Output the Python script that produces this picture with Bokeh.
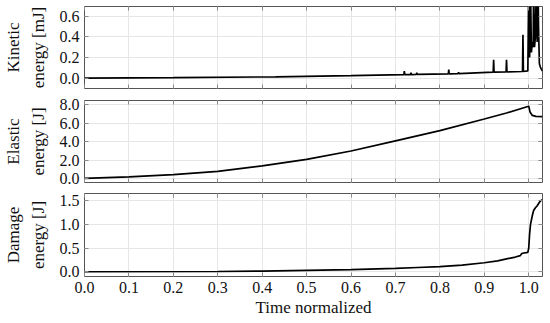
from bokeh.plotting import figure
from bokeh.layouts import column
from bokeh.models import LinearAxis, FixedTicker, Range1d, NumeralTickFormatter
from bokeh.embed import file_html
from bokeh.resources import INLINE

FONT = "Liberation Serif"

x_ticks = [0.0, 0.1, 0.2, 0.3, 0.4, 0.5, 0.6, 0.7, 0.8, 0.9, 1.0]

kin_ticks = [0.0, 0.2, 0.4, 0.6]
ela_ticks = [0.0, 2.0, 4.0, 6.0, 8.0]
dam_ticks = [0.0, 0.5, 1.0, 1.5]

# Kinetic energy [mJ]
kin_t = [0.0, 0.2, 0.43, 0.6, 0.719, 0.720, 0.721, 0.734, 0.735, 0.736, 0.747, 0.748, 0.749,
         0.819, 0.820, 0.821, 0.841, 0.842, 0.843, 0.920, 0.921, 0.922, 0.949, 0.950, 0.951,
         0.986, 0.987, 0.988, 0.998, 1.000, 1.002, 1.004, 1.006, 1.008, 1.010, 1.011, 1.013,
         1.015, 1.017, 1.019, 1.021, 1.022, 1.024, 1.026, 1.028, 1.031]
kin_v = [0.0, 0.005, 0.013, 0.024, 0.034, 0.068, 0.034, 0.035, 0.052, 0.035, 0.036, 0.052, 0.036,
         0.042, 0.084, 0.042, 0.045, 0.058, 0.045, 0.058, 0.178, 0.058, 0.060, 0.178, 0.060,
         0.065, 0.42, 0.065, 0.07, 0.9, 0.2, 0.9, 0.25, 0.35, 0.3, 0.9, 0.3,
         0.4, 0.9, 0.35, 0.9, 0.5, 0.14, 0.11, 0.09, 0.07]

# Elastic energy [J]
ela_t = [0.0, 0.1, 0.2, 0.3, 0.4, 0.5, 0.6, 0.7, 0.8, 0.9, 0.95, 0.998, 1.0, 1.003, 1.008,
         1.016, 1.031]
ela_v = [0.05, 0.2, 0.46, 0.8, 1.4, 2.1, 3.0, 4.1, 5.2, 6.45, 7.1, 7.8, 7.85, 7.2, 6.84,
         6.73, 6.7]

# Damage energy [J]
dam_t = [0.0, 0.3, 0.4, 0.5, 0.6, 0.7, 0.75, 0.8, 0.85, 0.9, 0.93, 0.95, 0.97, 0.981, 0.984,
         0.986, 0.998, 1.0, 1.002, 1.004, 1.008, 1.011, 1.015, 1.019, 1.026, 1.031]
dam_v = [0.0, 0.005, 0.015, 0.03, 0.045, 0.07, 0.09, 0.11, 0.14, 0.19, 0.23, 0.27, 0.31, 0.34,
         0.38, 0.39, 0.41, 0.5, 0.8, 1.0, 1.18, 1.29, 1.35, 1.39, 1.49, 1.52]


def style_axis(ax, ticks, show):
    ax.ticker = FixedTicker(ticks=ticks)
    ax.formatter = NumeralTickFormatter(format="0.0")
    ax.axis_line_color = None
    ax.major_tick_in = 4
    ax.major_tick_out = 0
    ax.major_tick_line_color = "#8a8a8a"
    ax.minor_tick_line_color = None
    ax.major_label_text_font = FONT
    if show:
        ax.major_label_text_color = "#111111"
        ax.major_label_text_font_size = "16px"
        ax.major_label_standoff = 5
    else:
        ax.major_label_text_color = None
        ax.major_label_text_font_size = "1px"
        ax.major_label_standoff = 0


def set_label(ax, text, standoff):
    ax.axis_label = text
    ax.axis_label_text_font = FONT
    ax.axis_label_text_font_size = "17px"
    ax.axis_label_text_font_style = "normal"
    ax.axis_label_text_color = "#111111"
    ax.axis_label_text_line_height = 1.3
    ax.axis_label_standoff = standoff


def make(height, yr, yticks, ylabel, t, v, show_x, mbt, mbb):
    p = figure(width=550, height=height, x_range=Range1d(0, 1.031), y_range=Range1d(*yr),
               output_backend="svg", toolbar_location=None,
               min_border_left=83, min_border_right=8, min_border_top=mbt, min_border_bottom=mbb)
    p.line(t, v, line_color="black", line_width=1.7)
    bottom = p.below[0]
    left = p.left[0]
    style_axis(bottom, x_ticks, show_x)
    style_axis(left, yticks, True)
    set_label(left, ylabel, 9)
    if show_x:
        set_label(bottom, "Time normalized", 2)
    top = LinearAxis()
    style_axis(top, x_ticks, False)
    right = LinearAxis()
    style_axis(right, yticks, False)
    p.add_layout(top, "above")
    p.add_layout(right, "right")
    p.xgrid.ticker = FixedTicker(ticks=x_ticks)
    p.ygrid.ticker = FixedTicker(ticks=yticks)
    p.grid.grid_line_color = "#e6e6e6"
    p.outline_line_color = "#555555"
    p.outline_line_width = 1
    p.outline_line_alpha = 1
    return p


p1 = make(94, (-0.1, 0.695), kin_ticks, "Kinetic\nenergy [mJ]", kin_t, kin_v, False, 6, 6)
p2 = make(93, (-0.4, 8.45), ela_ticks, "Elastic\nenergy [J]", ela_t, ela_v, False, 6, 5)
p3 = make(136, (-0.1, 1.65), dam_ticks, "Damage\nenergy [J]", dam_t, dam_v, True, 6, 47)

layout = column(p1, p2, p3)
open("out.html", "w").write(file_html(layout, INLINE))
